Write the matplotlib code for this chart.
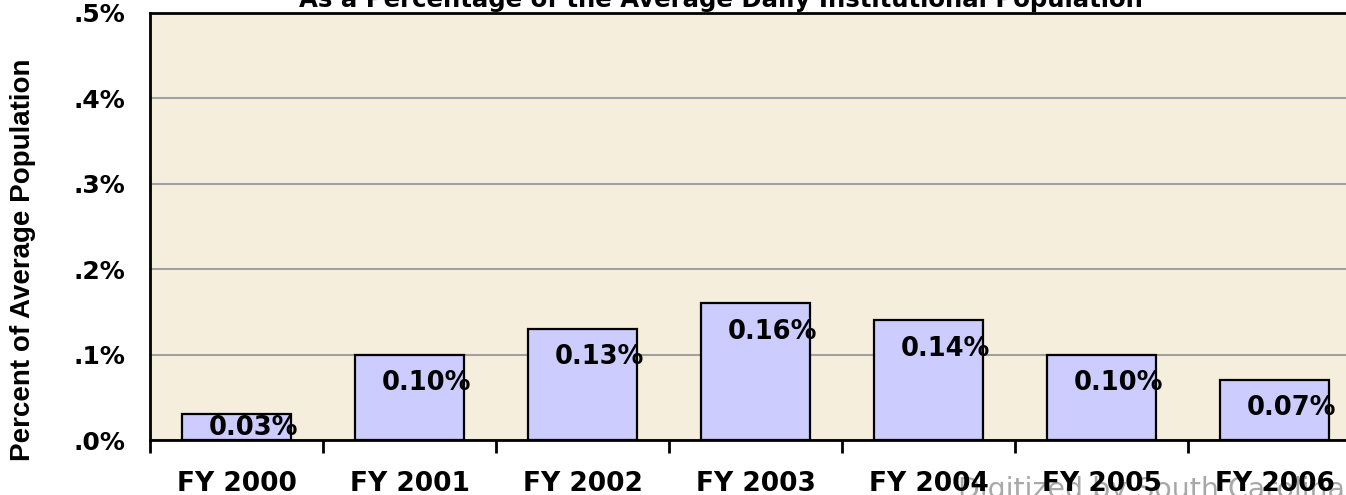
import matplotlib
matplotlib.use("Agg")
import matplotlib.pyplot as plt
import numpy as np

categories = ["FY 2000", "FY 2001", "FY 2002", "FY 2003", "FY 2004", "FY 2005", "FY 2006"]
values = [0.03, 0.10, 0.13, 0.16, 0.14, 0.10, 0.07]
value_labels = ["0.03%", "0.10%", "0.13%", "0.16%", "0.14%", "0.10%", "0.07%"]
y_ticks = [0.0, 0.1, 0.2, 0.3, 0.4, 0.5]
y_tick_labels = [".0%", ".1%", ".2%", ".3%", ".4%", ".5%"]
title = "As a Percentage of the Average Daily Institutional Population"
y_label = "Percent of Average Population"
watermark = "Digitized by South Carolina"

W, H = 1346, 495
fig = plt.figure(figsize=(W / 100, H / 100), dpi=100)
fig.patch.set_facecolor("white")

left, right, bottom, top = 150, 1361, 440, 13
ax = fig.add_axes([left / W, 1 - bottom / H, (right - left) / W, (bottom - top) / H])
ax.set_facecolor("#F6EEDD")

x = np.arange(len(categories))
ax.bar(x, values, width=0.625, color="#CCCCFF", edgecolor="black", linewidth=1.6, zorder=3)

for xi, v, lab in zip(x, values, value_labels):
    ax.text(xi + 0.1, max(v - 0.033, 0.014), lab, ha="center", va="center",
            fontsize=18.5, fontweight="bold", family="DejaVu Sans", color="black", zorder=4)

ax.set_xlim(-0.5, len(categories) - 0.5)
ax.set_ylim(0, 0.5)
ax.set_yticks(y_ticks)
ax.set_yticklabels(y_tick_labels, fontsize=18, fontweight="bold", family="DejaVu Sans")
ax.tick_params(axis="y", length=0, pad=18)

ax.set_xticks(x)
ax.set_xticklabels(categories, fontsize=19, fontweight="bold", family="DejaVu Sans")
ax.tick_params(axis="x", which="major", length=0, pad=22)
ax.set_xticks(np.arange(-0.5, len(categories) + 0.5, 1.0), minor=True)
ax.tick_params(axis="x", which="minor", length=9, width=2, direction="out", color="black")

ax.yaxis.grid(True, color="#A0A0A0", linewidth=1.5, zorder=0)
ax.set_axisbelow(True)
for s in ["left", "bottom", "top", "right"]:
    ax.spines[s].set_color("black")
    ax.spines[s].set_linewidth(2)

fig.text(721 / W, 1 - 7 / H, title, ha="center", va="baseline",
         fontsize=17.6, fontweight="bold", family="DejaVu Sans")
fig.text(23 / W, 1 - 260 / H, y_label, rotation=90, ha="center", va="center",
         fontsize=20, fontweight="bold", family="Liberation Sans")
fig.text(958 / W, 1 - 498 / H, watermark, ha="left", va="baseline",
         fontsize=20.5, family="DejaVu Sans", color="#A8A8A8", zorder=-1)

fig.savefig("out.png", dpi=100)
